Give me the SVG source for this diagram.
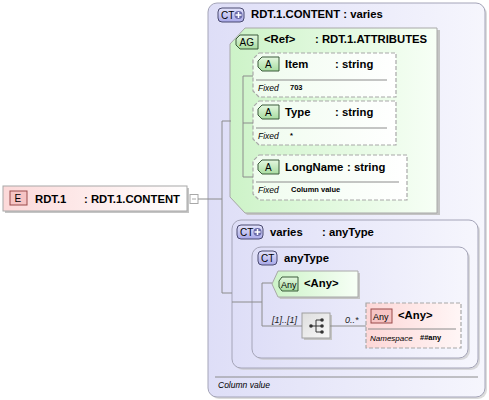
<svg xmlns="http://www.w3.org/2000/svg" width="489" height="400" viewBox="0 0 489 400">
<defs>
<linearGradient id="gPink" x1="0" y1="0" x2="1" y2="0"><stop offset="0" stop-color="#fcd9d9"/><stop offset="1" stop-color="#ffffff"/></linearGradient>
<linearGradient id="gPink2" x1="0" y1="0" x2="1" y2="0"><stop offset="0" stop-color="#fdd7d7"/><stop offset="1" stop-color="#fff6f6"/></linearGradient>
<linearGradient id="gLav" x1="0" y1="0" x2="1" y2="0"><stop offset="0" stop-color="#dedef7"/><stop offset="1" stop-color="#f6f6fd"/></linearGradient>
<linearGradient id="gGreen" x1="0" y1="0" x2="1" y2="0"><stop offset="0" stop-color="#cdf3c8"/><stop offset="1" stop-color="#f7fff6"/></linearGradient>
<linearGradient id="gAttr" x1="0" y1="0" x2="1" y2="0"><stop offset="0" stop-color="#effcee"/><stop offset="1" stop-color="#ffffff"/></linearGradient>
<linearGradient id="gGray" x1="0" y1="0" x2="1" y2="1"><stop offset="0" stop-color="#dedede"/><stop offset="1" stop-color="#f8f8f8"/></linearGradient>
<linearGradient id="gBadgeG" x1="0" y1="0" x2="0" y2="1"><stop offset="0" stop-color="#e4f8e0"/><stop offset="1" stop-color="#a8dca0"/></linearGradient>
<linearGradient id="gBadgeB" x1="0" y1="0" x2="0" y2="1"><stop offset="0" stop-color="#e4e4fb"/><stop offset="1" stop-color="#a8a8e8"/></linearGradient>
</defs>
<style>
text{font-family:"Liberation Sans",Arial,sans-serif;fill:#000}
.nm{font-size:11.3px;font-weight:bold}
.bd{font-size:10px}
.fx{font-size:8.5px;font-style:italic}
.fv{font-size:7.5px;font-weight:bold}
.card{font-size:9px;font-style:italic;fill:#222}
.ln{fill:none;stroke:#8c8c8c;stroke-width:1}
.sh{fill:#c4c4c4}
.dash{stroke:#a8a8a8;stroke-width:1.2;stroke-dasharray:4,2}
.sep{stroke:#8c8c8c;stroke-width:1}
</style>

<g id="outer-ct">
<rect x="210" y="5" width="277" height="394" rx="9" class="sh" opacity="0.6"/>
<rect x="208" y="3" width="277" height="394" rx="9" fill="url(#gLav)" stroke="#a4a4b8"/>
<rect x="218" y="8" width="26" height="14" rx="4" fill="url(#gBadgeB)" stroke="#4a4a70"/>
<text x="221" y="19" class="bd">CT</text>
<circle cx="238.5" cy="15" r="4" fill="#6a6aa8"/>
<path d="M235.5 15h6M238.5 12v6" stroke="#fff" stroke-width="1.5"/>
<text x="251" y="18" class="nm">RDT.1.CONTENT : varies</text>
<line x1="215" y1="377" x2="478" y2="377" class="sep"/>
<text x="218" y="388" class="fx">Column value</text>
</g>

<g id="element-rdt1">
<rect x="5" y="188" width="184" height="25" class="sh"/>
<rect x="3" y="186" width="184" height="25" fill="url(#gPink)" stroke="#a8a8a8"/>
<rect x="10" y="191" width="17" height="14" fill="#f6c4c4" stroke="#9a4a4a"/>
<text x="14.5" y="202" class="bd">E</text>
<text x="35" y="203" class="nm">RDT.1</text>
<text x="84" y="203" class="nm">: RDT.1.CONTENT</text>
<rect x="190" y="194.5" width="8" height="9" fill="#fff" stroke="#a8a8a8"/>
<line x1="192" y1="199" x2="196" y2="199" stroke="#a8a8a8"/>
</g>

<g id="ag-ref">
<path d="M247 30H440V215H247L232 199V46Z" class="sh"/>
<path d="M245 28H437V213H245L230 197V44Z" fill="url(#gGreen)" stroke="#a8a8a8"/>
<path d="M240 35H258V49H240L236 45V39Z" fill="url(#gBadgeG)" stroke="#3a5a3a"/>
<text x="239.5" y="46" class="bd">AG</text>
<text x="264" y="43" class="nm">&lt;Ref&gt;</text>
<text x="315" y="43" class="nm">: RDT.1.ATTRIBUTES</text>
</g>

<g id="attr-item">
<path d="M259 53H396V97H259L253 91V59Z" fill="url(#gAttr)" class="dash"/>
<path d="M262 57H279V71H262L258 67V61Z" fill="url(#gBadgeG)" stroke="#3a5a3a"/>
<text x="265" y="68" class="bd">A</text>
<text x="285" y="68" class="nm">Item</text>
<text x="335" y="68" class="nm">: string</text>
<line x1="256" y1="80" x2="387" y2="80" class="sep"/>
<text x="258" y="91" class="fx">Fixed</text>
<text x="290" y="90" class="fv">703</text>
</g>

<g id="attr-type">
<path d="M259 101H396V145H259L253 139V107Z" fill="url(#gAttr)" class="dash"/>
<path d="M262 105H279V119H262L258 115V109Z" fill="url(#gBadgeG)" stroke="#3a5a3a"/>
<text x="265" y="116" class="bd">A</text>
<text x="285" y="116" class="nm">Type</text>
<text x="335" y="116" class="nm">: string</text>
<line x1="256" y1="128" x2="387" y2="128" class="sep"/>
<text x="258" y="139" class="fx">Fixed</text>
<text x="290" y="138" class="fv">*</text>
</g>

<g id="attr-longname">
<path d="M259 155H407V200H259L253 194V161Z" fill="url(#gAttr)" class="dash"/>
<path d="M262 160H279V174H262L258 170V164Z" fill="url(#gBadgeG)" stroke="#3a5a3a"/>
<text x="265" y="171" class="bd">A</text>
<text x="285" y="171" class="nm">LongName</text>
<text x="347" y="171" class="nm">: string</text>
<line x1="256" y1="182" x2="399" y2="182" class="sep"/>
<text x="258" y="193" class="fx">Fixed</text>
<text x="291" y="192" class="fv">Column value</text>
</g>

<g id="ct-varies">
<rect x="234" y="222" width="246" height="148" rx="9" class="sh" opacity="0.6"/>
<rect x="232" y="220" width="246" height="148" rx="9" fill="url(#gLav)" stroke="#a4a4b8"/>
<rect x="237" y="225" width="26" height="14" rx="4" fill="url(#gBadgeB)" stroke="#4a4a70"/>
<text x="240" y="236" class="bd">CT</text>
<circle cx="257.5" cy="232" r="4" fill="#6a6aa8"/>
<path d="M254.5 232h6M257.5 229v6" stroke="#fff" stroke-width="1.5"/>
<text x="270" y="236" class="nm">varies</text>
<text x="322" y="236" class="nm">: anyType</text>
</g>

<g id="ct-anytype">
<rect x="254" y="249" width="216" height="111" rx="9" class="sh" opacity="0.6"/>
<rect x="252" y="247" width="216" height="111" rx="9" fill="url(#gLav)" stroke="#a4a4b8"/>
<rect x="258" y="251" width="19" height="14" rx="4" fill="url(#gBadgeB)" stroke="#4a4a70"/>
<text x="261" y="262" class="bd">CT</text>
<text x="284" y="262" class="nm">anyType</text>
</g>

<g id="any-element">
<path d="M280 273H360V299H280L274 287V285Z" class="sh"/>
<path d="M278 271H358V297H278L272 284Z" fill="url(#gGreen)" stroke="#a8a8a8"/>
<path d="M282 277H298V291H282L279 287V281Z" fill="url(#gBadgeG)" stroke="#3a5a3a"/>
<text x="281" y="288" style="font-size:9px">Any</text>
<text x="304" y="287" class="nm">&lt;Any&gt;</text>
</g>

<g id="sequence">
<rect x="304" y="315" width="28" height="25" class="sh"/>
<rect x="302" y="313" width="28" height="25" fill="url(#gGray)" stroke="#a0a0a0"/>
<path d="M311 326H316M316 320V332M316 320H321M316 326H321M316 332H321" stroke="#333" fill="none"/>
<circle cx="311" cy="326" r="1.8" fill="#333"/>
<circle cx="322" cy="320" r="1.8" fill="#333"/>
<circle cx="322" cy="326" r="1.8" fill="#333"/>
<circle cx="322" cy="332" r="1.8" fill="#333"/>
<text x="272" y="323" class="card">[1]..[1]</text>
<text x="345" y="323" class="card">0..*</text>
</g>

<g id="any-wildcard">
<rect x="366" y="303" width="95" height="45" fill="url(#gPink2)" class="dash"/>
<rect x="371" y="309" width="21" height="14" fill="#f6c4c4" stroke="#9a4a4a"/>
<text x="373" y="320" style="font-size:9px">Any</text>
<text x="398" y="319" class="nm">&lt;Any&gt;</text>
<line x1="368" y1="329" x2="456" y2="329" class="sep"/>
<text x="370" y="341" class="fx" style="font-size:8px">Namespace</text>
<text x="420" y="340" class="fv">##any</text>
</g>

<g id="connectors">
<path class="ln" d="M198 199H222M222 121V293M222 121H231M222 293H232"/>
<path class="ln" d="M243 76V177M243 76H253M243 123H253M243 177H253"/>
<path class="ln" d="M232 302H262M262 283V326M262 283H272M262 326H302M330 326H366"/>
</g>
</svg>
